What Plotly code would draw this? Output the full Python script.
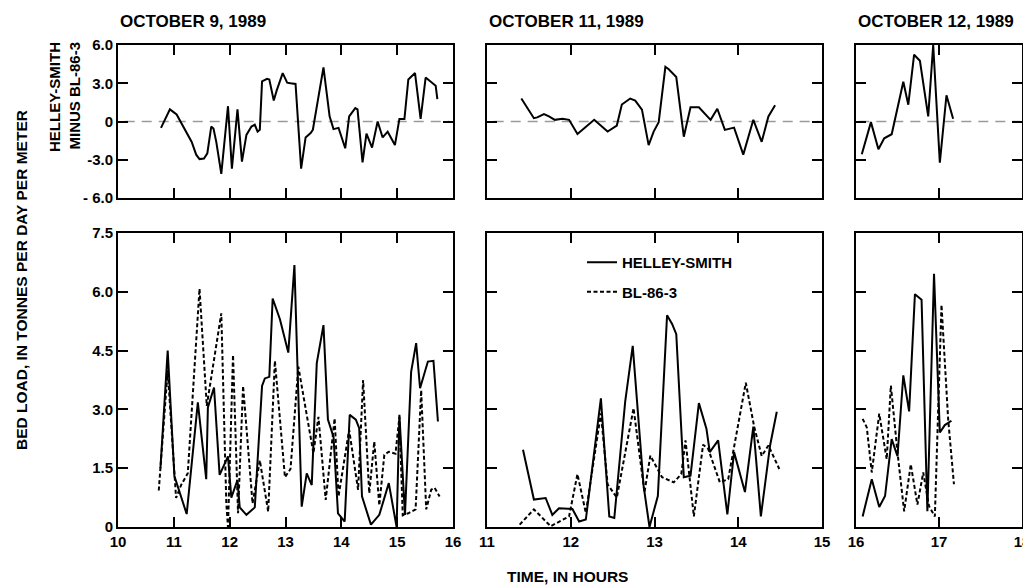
import plotly.graph_objects as go

# ---------------- DATA ----------------
oct9_diff_t = [10.77, 10.93, 11.05, 11.26, 11.32, 11.40, 11.46, 11.54, 11.60, 11.67, 11.71, 11.76,
               11.85, 11.97, 12.04, 12.14, 12.22, 12.30, 12.39, 12.45, 12.50, 12.54, 12.58, 12.67,
               12.71, 12.79, 12.84, 12.95, 13.03, 13.09, 13.18, 13.28, 13.36, 13.45, 13.49, 13.68,
               13.79, 13.86, 13.95, 14.07, 14.14, 14.25, 14.29, 14.38, 14.45, 14.55, 14.65, 14.74,
               14.83, 14.96, 15.04, 15.13, 15.20, 15.32, 15.42, 15.51, 15.63, 15.69, 15.72]
oct9_diff = [-0.5, 0.95, 0.55, -1.05, -1.6, -2.6, -2.95, -2.9, -2.5, -0.4, -0.55, -1.6,
             -4.1, 1.2, -3.7, 0.95, -3.15, -1.05, -0.4, -0.25, -0.8, -0.65, 3.15, 3.35,
             3.3, 1.65, 2.4, 3.8, 3.05, 3.0, 2.95, -3.7, -1.25, -0.9, -0.65, 4.25,
             0.4, -0.6, -0.5, -2.1, 0.4, 1.05, 0.95, -3.2, -0.95, -2.05, 0.0, -1.25,
             -0.8, -1.85, 0.2, 0.2, 3.3, 3.8, 0.2, 3.45, 3.05, 2.8, 1.75]

oct11_diff_t = [11.41, 11.56, 11.60, 11.68, 11.74, 11.81, 11.90, 11.98, 12.08, 12.18, 12.28, 12.44,
                12.55, 12.61, 12.71, 12.77, 12.85, 12.93, 12.99, 13.05, 13.13, 13.17, 13.26, 13.35,
                13.43, 13.53, 13.67, 13.75, 13.84, 13.95, 14.06, 14.18, 14.28, 14.36, 14.44]
oct11_diff = [1.8, 0.26, 0.32, 0.58, 0.4, 0.13, 0.21, 0.13, -0.98, -0.45, 0.13, -0.79,
              -0.32, 1.33, 1.8, 1.64, 0.93, -1.85, -0.79, -0.05, 4.29, 4.1, 3.49, -1.19,
              1.11, 1.11, 0.13, 1.0, -0.66, -0.48, -2.6, 0.13, -1.59, 0.4, 1.27]

oct12_diff_t = [16.07, 16.18, 16.27, 16.34, 16.43, 16.57, 16.63, 16.70, 16.77, 16.87, 16.93, 17.01,
                17.09, 17.17]
oct12_diff = [-2.57, -0.05, -2.17, -1.32, -1.0, 3.12, 1.32, 5.24, 4.76, 0.4, 6.0, -3.23,
              2.06, 0.21]

oct9_hs_t = [10.76, 10.89, 11.01, 11.23, 11.43, 11.58, 11.61, 11.72, 11.82, 11.97, 12.03, 12.14,
             12.18, 12.30, 12.45, 12.58, 12.63, 12.71, 12.77, 12.90, 13.05, 13.16, 13.29, 13.38,
             13.47, 13.56, 13.68, 13.76, 13.86, 13.94, 14.06, 14.15, 14.26, 14.32, 14.37, 14.53,
             14.68, 14.85, 14.99, 15.04, 15.14, 15.25, 15.34, 15.41, 15.55, 15.65, 15.73]
oct9_hs = [1.5, 4.5, 1.3, 0.33, 3.18, 1.22, 3.05, 3.56, 1.33, 1.8, 0.75, 1.2,
           0.5, 0.31, 0.5, 3.6, 3.79, 3.83, 5.83, 5.3, 4.45, 6.68, 0.52, 1.37,
           1.07, 4.18, 5.15, 2.74, 2.3, 0.35, 0.14, 2.86, 2.74, 2.52, 0.78, 0.06,
           0.31, 1.12, 0.0, 2.86, 0.31, 3.96, 4.69, 3.54, 4.22, 4.24, 2.69]

oct9_bl_t = [10.73, 10.89, 11.04, 11.13, 11.25, 11.46, 11.59, 11.85, 11.94, 11.97, 12.06, 12.15,
             12.24, 12.41, 12.54, 12.69, 12.81, 12.99, 13.09, 13.23, 13.50, 13.59, 13.72, 13.88,
             13.95, 14.14, 14.30, 14.39, 14.50, 14.59, 14.68, 14.77, 14.85, 14.97, 15.04, 15.10,
             15.20, 15.33, 15.43, 15.52, 15.61, 15.67, 15.76]
oct9_bl = [0.93, 4.0, 0.74, 1.07, 1.37, 6.08, 3.09, 5.45, 0.6, 0.0, 4.39, 0.35,
           3.6, 0.6, 1.7, 0.39, 4.24, 1.27, 1.48, 4.09, 1.88, 2.81, 0.69, 2.77,
           0.78, 2.48, 0.95, 3.75, 0.86, 2.18, 0.55, 1.84, 1.92, 1.87, 2.81, 0.3,
           0.35, 0.45, 3.49, 0.45, 0.95, 1.0, 0.78]

oct11_hs_t = [11.43, 11.56, 11.70, 11.78, 11.86, 12.02, 12.10, 12.18, 12.36, 12.46, 12.52, 12.65,
              12.74, 12.87, 12.94, 13.04, 13.15, 13.21, 13.26, 13.35, 13.43, 13.53, 13.62, 13.66,
              13.76, 13.87, 13.95, 14.08, 14.18, 14.27, 14.38, 14.46]
oct11_hs = [1.97, 0.7, 0.74, 0.31, 0.48, 0.46, 0.14, 0.19, 3.28, 0.27, 0.23, 3.2,
            4.62, 1.05, 0.0, 0.79, 5.4, 5.18, 4.92, 1.27, 1.31, 3.16, 2.51, 1.91,
            2.21, 0.32, 1.91, 0.89, 2.56, 0.27, 2.08, 2.94]

oct11_bl_t = [11.39, 11.56, 11.76, 11.98, 12.08, 12.18, 12.36, 12.44, 12.55, 12.75, 12.88, 12.95,
              13.09, 13.23, 13.32, 13.37, 13.47, 13.58, 13.64, 13.78, 13.88, 14.09, 14.19, 14.28,
              14.36, 14.49]
oct11_bl = [0.06, 0.45, 0.02, 0.27, 1.35, 0.36, 2.9, 1.09, 0.75, 3.03, 0.88, 1.82,
            1.27, 1.14, 1.35, 2.21, 0.27, 2.1, 2.0, 1.14, 1.22, 3.68, 2.56, 1.81,
            2.08, 1.48]

oct12_hs_t = [16.08, 16.19, 16.28, 16.35, 16.43, 16.50, 16.57, 16.64, 16.71, 16.79, 16.86, 16.94,
              17.01, 17.07, 17.15]
oct12_hs = [0.27, 1.22, 0.51, 0.79, 2.24, 1.81, 3.87, 2.95, 5.94, 5.8, 0.4, 6.46,
            2.41, 2.6, 2.71]

oct12_bl_t = [16.08, 16.13, 16.19, 16.28, 16.37, 16.42, 16.50, 16.58, 16.66, 16.74, 16.81, 16.88,
              16.95, 17.03, 17.11, 17.18]
oct12_bl = [2.76, 2.54, 1.39, 2.89, 1.73, 3.61, 1.9, 0.4, 1.6, 0.57, 1.39, 0.53,
            0.27, 5.67, 2.76, 1.09]

titles = ["OCTOBER 9, 1989", "OCTOBER 11, 1989", "OCTOBER 12, 1989"]
x_ranges = [[10, 16], [11, 15], [16, 18]]
x_ticks = [[10, 11, 12, 13, 14, 15, 16], [11, 12, 13, 14, 15], [16, 17, 18]]
diff_ticks = [-6, -3, 0, 3, 6]
diff_ticktext = ["- 6.0", "-3.0", "0", "3.0", "6.0"]
load_ticks = [0, 1.5, 3.0, 4.5, 6.0, 7.5]
load_ticktext = ["0", "1.5", "3.0", "4.5", "6.0", "7.5"]

# ---------------- FIGURE ----------------
W, H = 1031, 587
OX, OY = 8, 8   # page body margin offset
FONT = "Liberation Sans, Arial, sans-serif"
px_x = [(118, 453), (487, 822), (856, 1022)]
top_px = (45, 198)
bot_px = (233, 527)

def fx(px):
    return (px - OX) / W

def fy(py):
    return 1 - (py - OY) / H

def xd(p):
    return [fx(p[0]), fx(p[1])]

def yd(p):
    return [fy(p[1]), fy(p[0])]

fig = go.Figure()

diff_data = [(oct9_diff_t, oct9_diff), (oct11_diff_t, oct11_diff), (oct12_diff_t, oct12_diff)]
hs_data = [(oct9_hs_t, oct9_hs), (oct11_hs_t, oct11_hs), (oct12_hs_t, oct12_hs)]
bl_data = [(oct9_bl_t, oct9_bl), (oct11_bl_t, oct11_bl), (oct12_bl_t, oct12_bl)]

solid = dict(color="black", width=2)
dashed = dict(color="black", width=2, dash="4px,2.5px")

for i in range(3):
    xa_top = "x" if i == 0 else f"x{i+1}"
    ya_top = "y" if i == 0 else f"y{i+1}"
    xa_bot = f"x{i+4}"
    ya_bot = f"y{i+4}"
    fig.add_trace(go.Scatter(x=diff_data[i][0], y=diff_data[i][1], mode="lines", line=solid,
                             xaxis=xa_top, yaxis=ya_top, showlegend=False))
    fig.add_trace(go.Scatter(x=hs_data[i][0], y=hs_data[i][1], mode="lines", line=solid,
                             xaxis=xa_bot, yaxis=ya_bot, name="HELLEY-SMITH",
                             legendgroup="hs", showlegend=(i == 1)))
    fig.add_trace(go.Scatter(x=bl_data[i][0], y=bl_data[i][1], mode="lines", line=dashed,
                             xaxis=xa_bot, yaxis=ya_bot, name="BL-86-3",
                             legendgroup="bl", showlegend=(i == 1)))

axis_common = dict(showline=True, linecolor="black", linewidth=2, mirror="ticks",
                   ticks="inside", ticklen=10, tickwidth=2, tickcolor="black",
                   showgrid=False, zeroline=False, automargin=False,
                   ticklabeloverflow="allow",
                   tickfont=dict(family=FONT, size=15, color="black", weight="bold"))

layout = dict(width=W, height=H, margin=dict(l=0, r=0, t=0, b=0, autoexpand=False),
              paper_bgcolor="white", plot_bgcolor="white", template="none",
              font=dict(family=FONT, color="black", weight="bold"))

for i in range(3):
    kx_top = "xaxis" if i == 0 else f"xaxis{i+1}"
    ky_top = "yaxis" if i == 0 else f"yaxis{i+1}"
    kx_bot = f"xaxis{i+4}"
    ky_bot = f"yaxis{i+4}"
    ytop_anchor = "y" if i == 0 else f"y{i+1}"
    xtop_anchor = "x" if i == 0 else f"x{i+1}"
    layout[kx_top] = dict(axis_common, domain=xd(px_x[i]), range=x_ranges[i], tickvals=x_ticks[i],
                          showticklabels=False, anchor=ytop_anchor)
    layout[ky_top] = dict(axis_common, domain=yd(top_px), range=[-6, 6], tickvals=diff_ticks,
                          ticktext=diff_ticktext, showticklabels=(i == 0), anchor=xtop_anchor)
    layout[kx_bot] = dict(axis_common, domain=xd(px_x[i]), range=x_ranges[i], tickvals=x_ticks[i],
                          showticklabels=True, anchor=f"y{i+4}")
    layout[ky_bot] = dict(axis_common, domain=yd(bot_px), range=[0, 7.5], tickvals=load_ticks,
                          ticktext=load_ticktext, showticklabels=(i == 0), anchor=f"x{i+4}")

fig.update_layout(**layout)

# zero reference lines in the difference panels
for i in range(3):
    xr = "x domain" if i == 0 else f"x{i+1} domain"
    yr = "y" if i == 0 else f"y{i+1}"
    fig.add_shape(type="line", xref=xr, yref=yr, x0=0.02, x1=0.99, y0=0, y1=0,
                  line=dict(color="#9a9a9a", width=1.5, dash="10px,7px"), layer="below")

# titles
for i in range(3):
    fig.add_annotation(text=titles[i], x=fx(px_x[i][0]), y=fy(21), xref="paper", yref="paper",
                       xanchor="left", yanchor="middle", showarrow=False,
                       font=dict(family=FONT, size=17, color="black", weight="bold"))

fig.add_annotation(text="HELLEY-SMITH<br>MINUS BL-86-3", textangle=-90, x=fx(64), y=fy(40),
                   xref="paper", yref="paper", xanchor="center", yanchor="top", align="right",
                   showarrow=False, font=dict(family=FONT, size=15, color="black", weight="bold"))
fig.add_annotation(text="BED LOAD, IN TONNES PER DAY PER METER", textangle=-90, x=fx(21),
                   y=fy(280), xref="paper", yref="paper", xanchor="center", yanchor="middle",
                   showarrow=False, font=dict(family=FONT, size=15.5, color="black", weight="bold"))
fig.add_annotation(text="TIME, IN HOURS", x=fx(567), y=fy(576), xref="paper", yref="paper",
                   xanchor="center", yanchor="middle", showarrow=False,
                   font=dict(family=FONT, size=15.5, color="black", weight="bold"))

fig.update_layout(legend=dict(x=fx(582), y=fy(246), xanchor="left", yanchor="top",
                              bgcolor="rgba(0,0,0,0)", borderwidth=0, traceorder="grouped",
                              tracegroupgap=7,
                              font=dict(family=FONT, size=15, color="black", weight="bold")))

fig.write_html("out.html")
